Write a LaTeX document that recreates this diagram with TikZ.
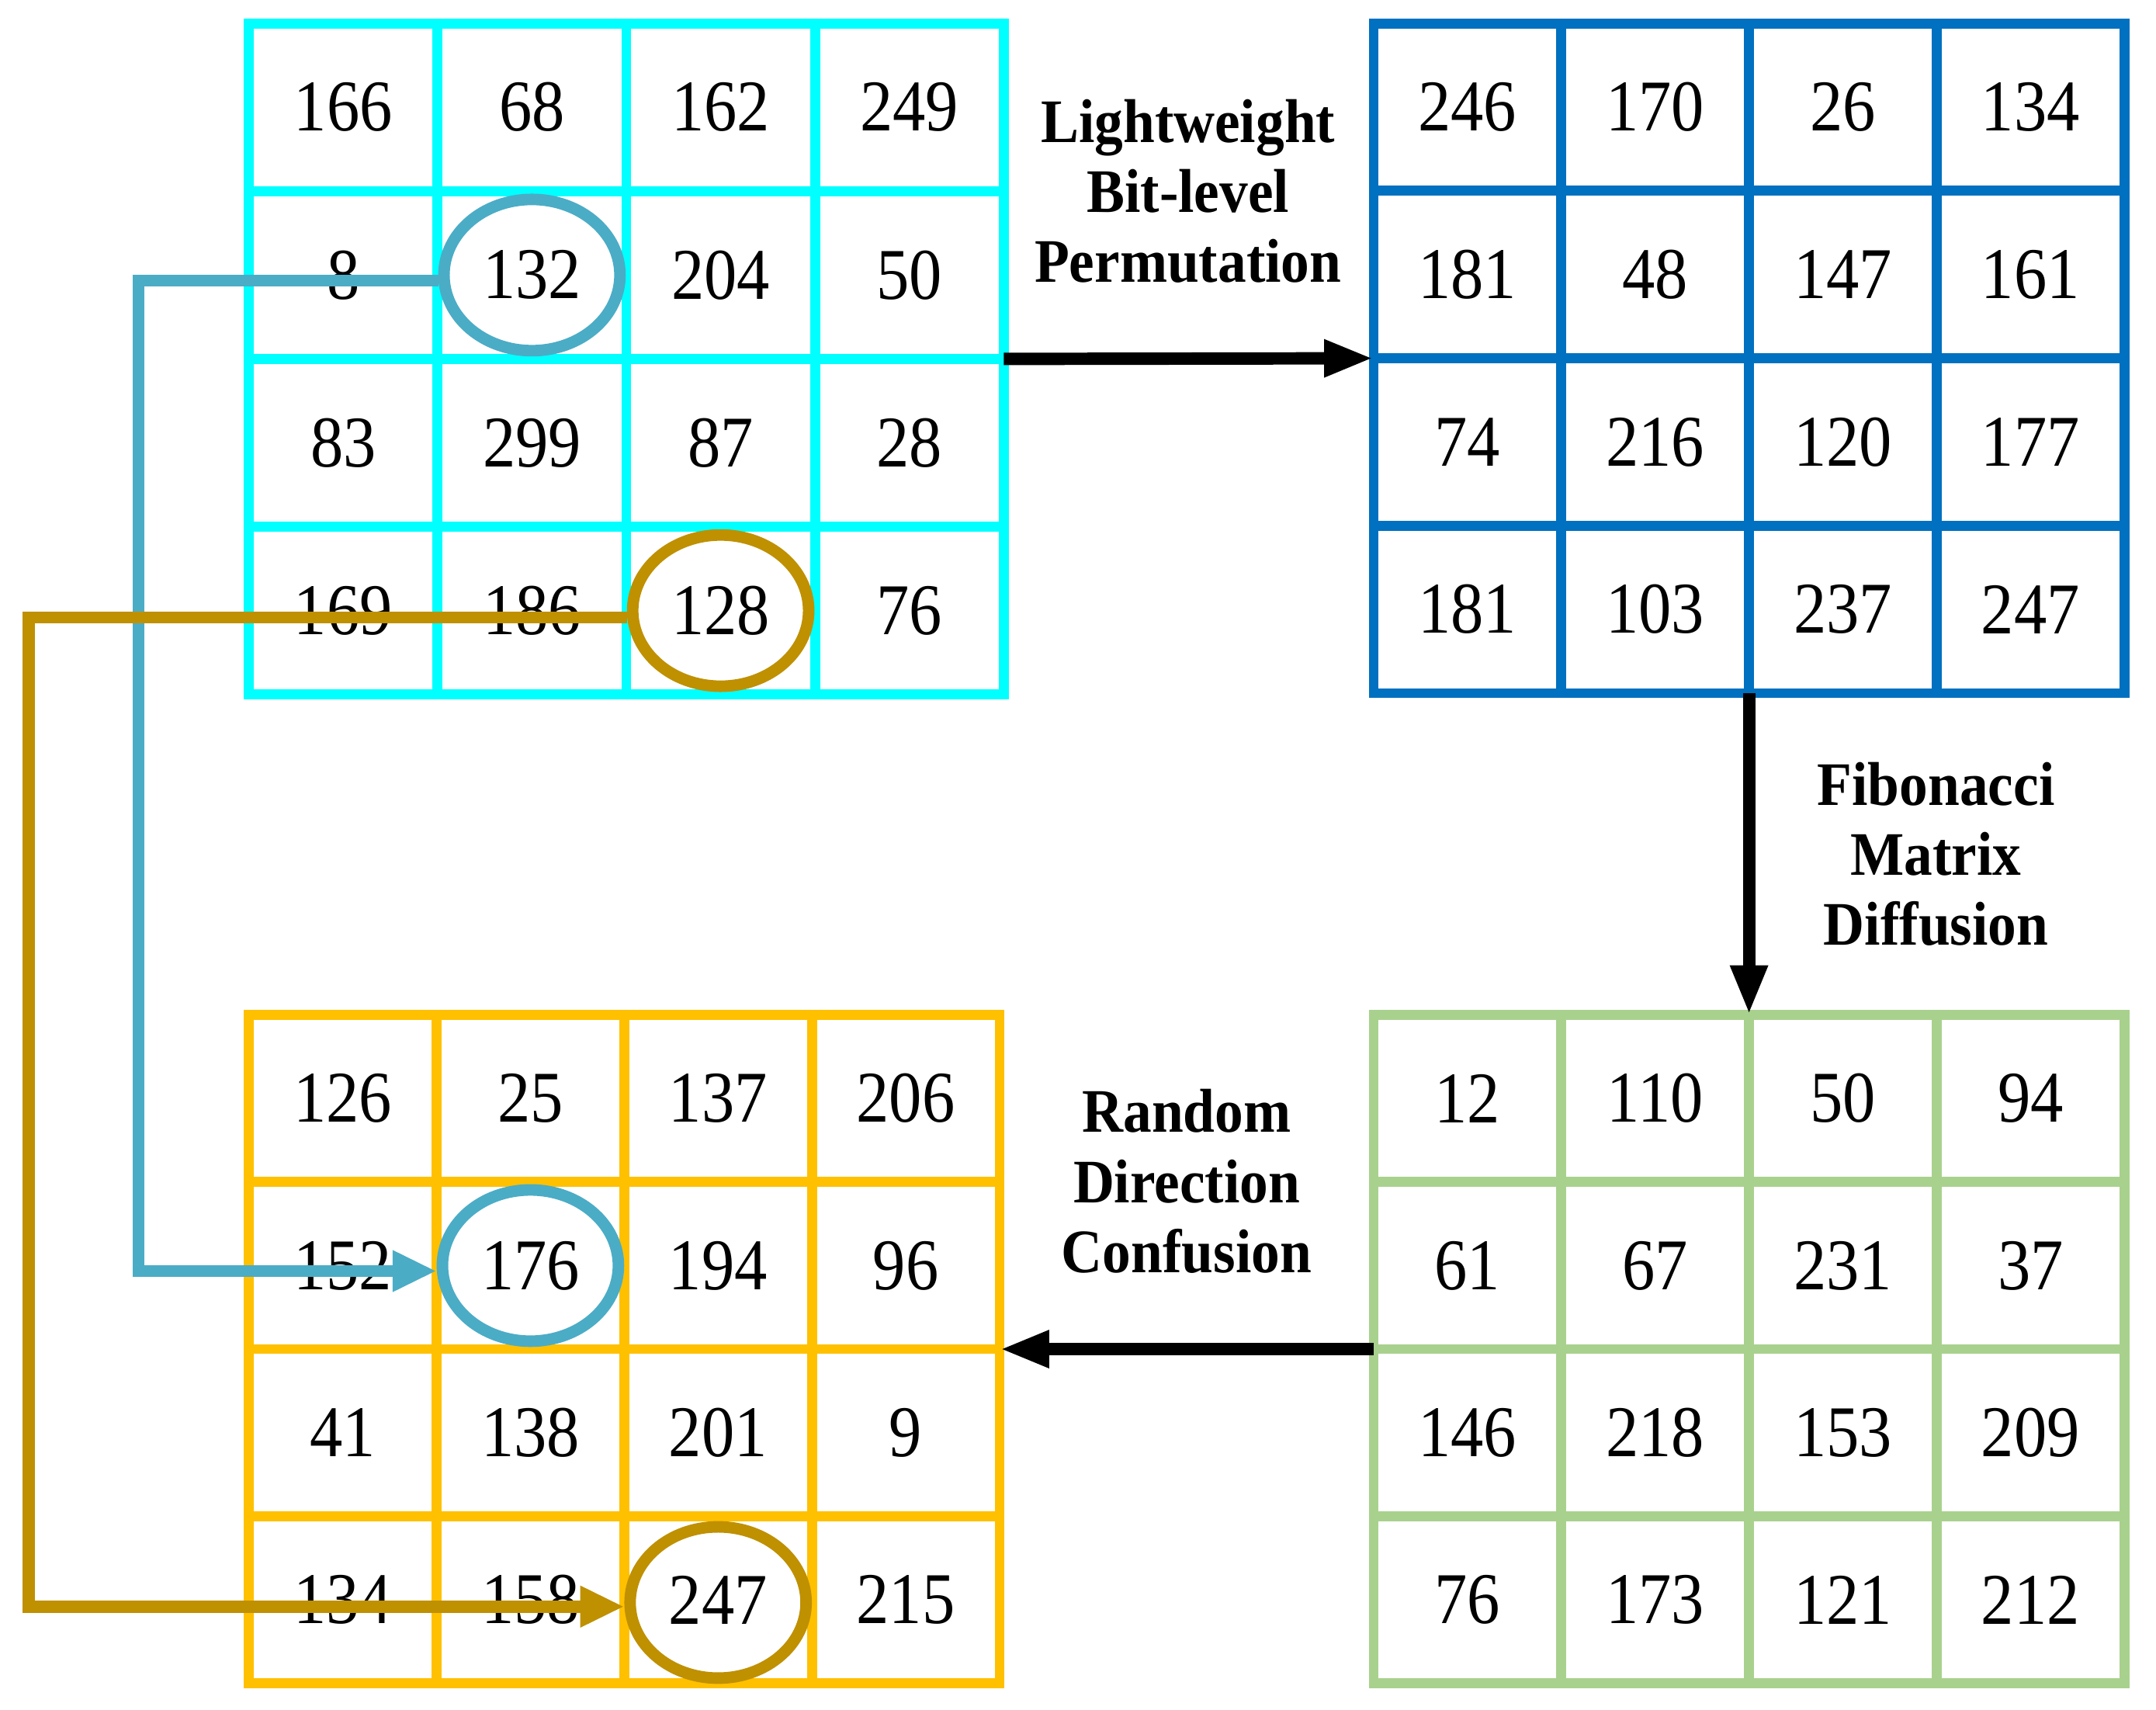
\documentclass[tikz,border=0pt]{standalone}
\usepackage{fontspec}
\setmainfont{Liberation Serif}
\newfontfamily\numfont[FakeStretch=0.9]{Liberation Serif}
\newfontfamily\labfont[FakeStretch=0.92]{Liberation Serif}
\usetikzlibrary{arrows.meta,shapes.geometric}
\definecolor{gcyan}{HTML}{00FFFF}
\definecolor{gblue}{HTML}{0070C0}
\definecolor{gorange}{HTML}{FFC000}
\definecolor{ggreen}{HTML}{A9D18E}
\definecolor{rblue}{HTML}{4BACC6}
\definecolor{rgold}{HTML}{BF9000}
\tikzset{
  cell/.style={draw, line width=3.6pt, inner sep=0pt, outer sep=0pt,
    font=\numfont\fontsize{26.5}{30}\selectfont},
  ring/.style={ellipse, draw, line width=4.2pt, inner sep=0pt,
    minimum width=64pt, minimum height=55pt},
  lab/.style={align=center, font=\labfont\bfseries\fontsize{22.5}{25.5}\selectfont},
  bigarrow/.style={line width=4.5pt, -{Triangle[length=18pt,width=12.5pt]}},
  link/.style={line width=4.4pt, line join=miter, -{Triangle[length=16pt,width=14pt]}},
}
\newcommand\cellgrid[7]{%
  \foreach \vals [count=\r] in {#7} {
    \foreach \v [count=\c] in \vals {
      \node[cell, draw=#2, minimum width={#5*0.5pt}, minimum height={#6*0.5pt}]
        (#1\r\c) at ({#3+(\c-0.5)*#5},{#4+(\r-0.5)*#6}) {\v};
    }
  }
}
\begin{document}
\begin{tikzpicture}[x=0.5pt,y=-0.5pt]
\useasboundingbox (0,0) rectangle (1568,1243);
% grids
\cellgrid{A}{gcyan}{181}{17}{137.25}{122}{{166,68,162,249},{8,132,204,50},{83,299,87,28},{169,186,128,76}}
\cellgrid{B}{gblue}{999}{17}{136.5}{121.75}{{246,170,26,134},{181,48,147,161},{74,216,120,177},{181,103,237,247}}
\cellgrid{C}{gorange}{181}{738}{136.5}{121.5}{{126,25,137,206},{152,176,194,96},{41,138,201,9},{134,158,247,215}}
\cellgrid{D}{ggreen}{999}{738}{136.5}{121.5}{{12,110,50,94},{61,67,231,37},{146,218,153,209},{76,173,121,212}}
% rings
\node[ring, draw=rblue] (e1) at (A22) {};
\node[ring, draw=rgold] (e2) at (A43) {};
\node[ring, draw=rblue] (e3) at (C22) {};
\node[ring, draw=rgold] (e4) at ([yshift=-1]C43) {};
% colored links
\draw[link, draw=rblue] ([yshift=-2]e1.west) -- ++(-218,0) coordinate (b1) |- ([yshift=-2]e3.west);
\draw[link, draw=rgold] ([yshift=-2.5]e2.west) -- ++(-435,0) coordinate (g1) |- ([yshift=-1.5]e4.west);
% black arrows
\draw[bigarrow] (A24.south east) -- (B31.north west);
\draw[bigarrow] (B42.south east) -- (D12.north east);
\draw[bigarrow] (D21.south west) -- (C24.south east);
% labels
\node[lab] (l1) at (864,139) {Lightweight\\Bit-level\\Permutation};
\node[lab] (l2) at (1408,621) {Fibonacci\\Matrix\\Diffusion};
\node[lab] (l3) at (863,859) {Random\\Direction\\Confusion};
\end{tikzpicture}
\end{document}
